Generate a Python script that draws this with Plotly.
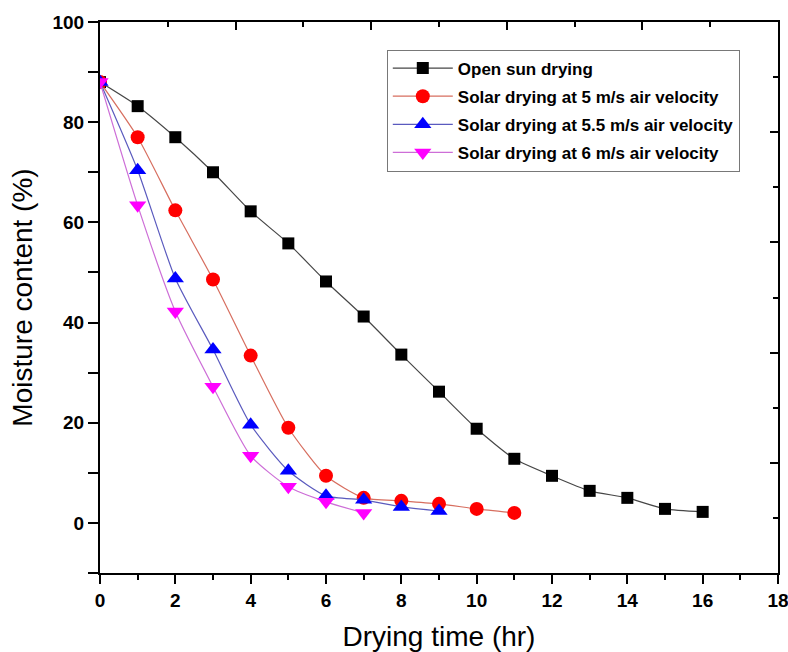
import plotly.graph_objects as go

# Data
time_open = list(range(0, 17))
open_sun = [88, 83.2, 77, 70, 62.2, 55.8, 48.2, 41.2, 33.6, 26.2, 18.8, 12.8, 9.4, 6.4, 5.0, 2.8, 2.2]

time_5 = list(range(0, 12))
solar_5 = [88, 77, 62.4, 48.6, 33.4, 19.0, 9.4, 5.0, 4.4, 3.8, 2.8, 2.0]

time_55 = list(range(0, 10))
solar_55 = [88, 70.4, 48.8, 34.6, 19.6, 10.4, 5.4, 4.6, 3.2, 2.4]

time_6 = list(range(0, 8))
solar_6 = [88, 63.4, 42.2, 27.2, 13.4, 7.2, 4.2, 2.0]

names = ["Open sun drying",
         "Solar drying at 5 m/s air velocity",
         "Solar drying at 5.5 m/s air velocity",
         "Solar drying at 6 m/s air velocity"]

x_ticks = list(range(0, 19, 2))
y_ticks = list(range(0, 101, 20))

fig = go.Figure()

specs = [
    (time_open, open_sun, names[0], "square", "#000000", "rgb(70,70,70)", 12),
    (time_5, solar_5, names[1], "circle", "#ff0000", "rgb(215,110,95)", 14),
    (time_55, solar_55, names[2], "triangle-up", "#0000ff", "rgb(90,90,190)", 15),
    (time_6, solar_6, names[3], "triangle-down", "#ff00ff", "rgb(205,110,215)", 15),
]

for i, (xs, ys, nm, sym, mc, lc, sz) in enumerate(specs):
    fig.add_trace(go.Scatter(
        x=xs, y=ys, name=nm, mode="lines+markers", legendgroup=f"g{i}",
        line=dict(color=lc, width=1.2, shape="spline", smoothing=0.6),
        marker=dict(symbol=sym, size=sz, color=mc, line=dict(width=0)),
    ))

# dummy trace for mirrored frame axes (top and right, ticks inside)
fig.add_trace(go.Scatter(x=[None], y=[None], xaxis="x2", yaxis="y2",
                         showlegend=False, hoverinfo="skip"))

font_family = "Liberation Sans, Arial, sans-serif"

fig.update_layout(
    width=788, height=652,
    margin=dict(l=100, r=10, t=22, b=79),
    paper_bgcolor="white", plot_bgcolor="white",
    font=dict(family=font_family, color="black"),
    xaxis=dict(
        range=[0, 18], tickvals=x_ticks, ticktext=[str(v) for v in x_ticks],
        ticks="outside", ticklen=9, tickwidth=2, tickcolor="black",
        minor=dict(dtick=1, ticks="outside", ticklen=5, tickwidth=2, tickcolor="black"),
        showline=True, linecolor="black", linewidth=2,
        showgrid=False, zeroline=False, automargin=False,
        ticklabeloverflow="allow",
        tickfont=dict(size=19, family=font_family, weight="bold"),
        title=dict(text="Drying time (hr)", font=dict(size=28), standoff=18),
    ),
    yaxis=dict(
        range=[-10, 100], tickvals=y_ticks, ticktext=[str(v) for v in y_ticks],
        ticks="outside", ticklen=10, tickwidth=2, tickcolor="black",
        minor=dict(tickvals=[-10, 10, 30, 50, 70, 90], ticks="outside", ticklen=10, tickwidth=2, tickcolor="black"),
        showline=True, linecolor="black", linewidth=2,
        showgrid=False, zeroline=False, automargin=False,
        ticklabeloverflow="allow",
        tickfont=dict(size=19, family=font_family, weight="bold"),
        title=dict(text="Moisture content (%)", font=dict(size=28), standoff=12),
    ),
    xaxis2=dict(
        overlaying="x", side="top", range=[0, 10], dtick=2,
        ticks="inside", ticklen=8, tickwidth=2, tickcolor="black",
        minor=dict(dtick=1, ticks="inside", ticklen=5, tickwidth=2, tickcolor="black"),
        showticklabels=False, showline=True, linecolor="black", linewidth=2,
        showgrid=False, zeroline=False, automargin=False,
    ),
    yaxis2=dict(
        overlaying="y", side="right", range=[0, 100], dtick=20,
        ticks="inside", ticklen=8, tickwidth=2, tickcolor="black",
        minor=dict(dtick=10, ticks="inside", ticklen=5, tickwidth=2, tickcolor="black"),
        showticklabels=False, showline=True, linecolor="black", linewidth=2,
        showgrid=False, zeroline=False, automargin=False,
    ),
    legend=dict(
        x=0.423, y=0.95, xanchor="left", yanchor="top",
        bgcolor="white", bordercolor="rgb(120,120,120)", borderwidth=1,
        font=dict(size=17, family=font_family, weight="bold"),
        tracegroupgap=3, itemwidth=60,
    ),
    showlegend=True,
)

# remove the page's default body margin so the figure fills the window exactly
fig.write_html(
    "out.html",
    config={"displayModeBar": False},
    post_script="document.body.style.margin='0';"
                "document.documentElement.style.overflow='hidden';",
)
